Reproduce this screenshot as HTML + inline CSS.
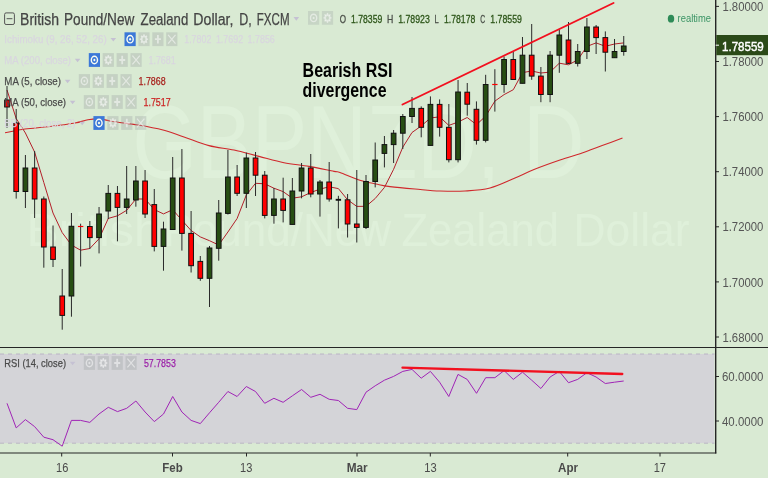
<!DOCTYPE html>
<html lang="en"><head><meta charset="utf-8"><title>GBPNZD chart</title>
<style>html,body{margin:0;padding:0;background:#d9ead3;}body{width:768px;height:478px;overflow:hidden;position:relative;font-family:"Liberation Sans",Arial,sans-serif;}</style>
</head><body>
<svg width="768" height="478" viewBox="0 0 768 478" style="position:absolute;left:0;top:0;display:block" font-family="'Liberation Sans', Arial, sans-serif">
<rect x="0" y="0" width="768" height="478" fill="#d9ead3"/>
<text x="132.5" y="178" font-size="103.5" fill="#dff0da" textLength="367.5" lengthAdjust="spacingAndGlyphs">GBPNZD,</text>
<text x="523" y="178" font-size="103.5" fill="#dff0da" textLength="61.5" lengthAdjust="spacingAndGlyphs">D</text>
<text x="26.5" y="245.6" font-size="46" fill="#dff0da" textLength="134.5" lengthAdjust="spacingAndGlyphs">British</text>
<text x="163.5" y="245.6" font-size="46" fill="#dff0da" textLength="227.5" lengthAdjust="spacingAndGlyphs">Pound/New</text>
<text x="401.5" y="245.6" font-size="46" fill="#dff0da" textLength="157.5" lengthAdjust="spacingAndGlyphs">Zealand</text>
<text x="573.5" y="245.6" font-size="46" fill="#dff0da" textLength="116.0" lengthAdjust="spacingAndGlyphs">Dollar</text>
<rect x="0" y="354" width="714.5" height="89.2" fill="#d4d4d8"/>
<line x1="0" y1="354" x2="714.5" y2="354" stroke="#b7b0c3" stroke-width="0.9" stroke-dasharray="4 4"/>
<line x1="0" y1="443.2" x2="714.5" y2="443.2" stroke="#b7b0c3" stroke-width="0.9" stroke-dasharray="4 4"/>
<path d="M5.0 132.7 C8.3 132.1 17.5 130.0 25.0 129.0 C32.5 128.0 41.7 127.5 50.0 126.5 C58.3 125.5 68.7 124.1 75.0 123.0 C81.3 121.9 83.8 120.5 88.0 119.8 C92.2 119.1 95.8 118.7 100.0 119.0 C104.2 119.3 106.7 120.5 113.0 121.5 C119.3 122.5 129.7 123.6 138.0 125.0 C146.3 126.4 155.3 128.0 163.0 130.0 C170.7 132.0 176.3 134.4 184.0 137.0 C191.7 139.6 200.7 143.4 209.0 145.6 C217.3 147.8 225.7 148.2 234.0 150.0 C242.3 151.8 250.7 154.3 259.0 156.4 C267.3 158.5 275.7 161.0 284.0 162.7 C292.3 164.4 300.7 164.9 309.0 166.4 C317.3 167.9 328.8 170.4 334.0 171.4 C339.2 172.4 335.8 171.1 340.0 172.5 C344.2 173.9 353.0 178.1 359.0 180.0 C365.0 181.9 370.8 182.9 376.0 184.0 C381.2 185.1 383.5 185.8 390.0 186.6 C396.5 187.4 406.7 188.3 415.0 189.0 C423.3 189.7 431.7 190.7 440.0 191.0 C448.3 191.3 456.7 191.5 465.0 191.0 C473.3 190.5 481.7 190.2 490.0 188.0 C498.3 185.8 507.7 181.1 515.0 178.0 C522.3 174.9 526.5 172.5 534.0 169.5 C541.5 166.5 551.5 162.9 560.0 160.0 C568.5 157.1 577.5 154.6 585.0 152.0 C592.5 149.4 598.8 146.8 605.0 144.5 C611.2 142.2 619.6 139.1 622.5 138.0" fill="none" stroke="#d0282c" stroke-width="1.1"/>
<polyline points="7.0,90.0 16.2,118.5 25.4,133.0 34.6,152.0 43.8,182.5 53.0,213.0 62.2,232.6 71.4,245.0 80.6,250.2 89.8,248.5 99.0,238.8 108.3,218.4 117.5,215.8 126.7,210.3 135.9,199.0 145.1,199.0 154.3,209.6 163.5,213.9 172.7,209.7 181.9,220.2 191.1,230.5 200.3,236.9 209.5,240.7 218.7,245.0 227.9,232.0 237.1,218.5 246.3,195.0 255.5,183.3 264.7,183.8 273.9,188.2 283.1,191.6 292.4,198.2 301.6,196.8 310.8,192.5 320.0,189.1 329.2,186.8 338.4,188.6 347.6,199.8 356.8,206.4 366.0,206.3 375.2,198.5 384.4,187.5 393.6,169.3 402.8,147.2 412.0,132.5 421.2,126.0 430.4,118.0 439.6,116.8 448.8,125.4 458.0,122.1 467.2,117.5 476.5,124.7 485.7,116.1 494.9,101.1 504.1,94.6 513.3,89.7 522.5,72.6 531.7,71.0 540.9,73.0 550.1,72.1 559.3,63.2 568.5,64.8 577.7,59.9 586.9,46.4 596.1,42.9 605.3,46.3 614.5,44.0 623.7,42.9" fill="none" stroke="#b3202a" stroke-width="1" stroke-linejoin="round"/>
<line x1="7.00" y1="86.0" x2="7.00" y2="128.0" stroke="#2a2a2a" stroke-width="1"/>
<rect x="4.65" y="100.0" width="4.7" height="7.0" fill="#ff0000" stroke="#111" stroke-width="1"/>
<line x1="16.20" y1="109.0" x2="16.20" y2="198.6" stroke="#2a2a2a" stroke-width="1"/>
<rect x="13.85" y="123.0" width="4.7" height="68.5" fill="#ff0000" stroke="#111" stroke-width="1"/>
<line x1="25.41" y1="155.0" x2="25.41" y2="208.0" stroke="#2a2a2a" stroke-width="1"/>
<rect x="23.06" y="168.0" width="4.7" height="23.5" fill="#274e13" stroke="#111" stroke-width="1"/>
<line x1="34.62" y1="151.0" x2="34.62" y2="218.0" stroke="#2a2a2a" stroke-width="1"/>
<rect x="32.27" y="168.0" width="4.7" height="31.0" fill="#ff0000" stroke="#111" stroke-width="1"/>
<line x1="43.82" y1="196.5" x2="43.82" y2="267.7" stroke="#2a2a2a" stroke-width="1"/>
<rect x="41.47" y="199.0" width="4.7" height="48.0" fill="#ff0000" stroke="#111" stroke-width="1"/>
<line x1="53.02" y1="225.5" x2="53.02" y2="267.0" stroke="#2a2a2a" stroke-width="1"/>
<rect x="50.67" y="247.0" width="4.7" height="12.4" fill="#ff0000" stroke="#111" stroke-width="1"/>
<line x1="62.23" y1="269.0" x2="62.23" y2="329.7" stroke="#2a2a2a" stroke-width="1"/>
<rect x="59.88" y="296.0" width="4.7" height="19.4" fill="#ff0000" stroke="#111" stroke-width="1"/>
<line x1="71.44" y1="213.0" x2="71.44" y2="316.7" stroke="#2a2a2a" stroke-width="1"/>
<rect x="69.09" y="226.3" width="4.7" height="69.7" fill="#274e13" stroke="#111" stroke-width="1"/>
<line x1="80.64" y1="223.7" x2="80.64" y2="266.5" stroke="#2a2a2a" stroke-width="1"/>
<line x1="77.94" y1="226.5" x2="83.34" y2="226.5" stroke="#ff0000" stroke-width="1.2"/>
<line x1="89.84" y1="221.0" x2="89.84" y2="249.0" stroke="#2a2a2a" stroke-width="1"/>
<rect x="87.50" y="226.5" width="4.7" height="11.1" fill="#ff0000" stroke="#111" stroke-width="1"/>
<line x1="99.05" y1="207.0" x2="99.05" y2="253.4" stroke="#2a2a2a" stroke-width="1"/>
<rect x="96.70" y="214.0" width="4.7" height="23.6" fill="#274e13" stroke="#111" stroke-width="1"/>
<line x1="108.25" y1="185.0" x2="108.25" y2="219.0" stroke="#2a2a2a" stroke-width="1"/>
<rect x="105.91" y="193.4" width="4.7" height="17.6" fill="#274e13" stroke="#111" stroke-width="1"/>
<line x1="117.46" y1="186.0" x2="117.46" y2="241.3" stroke="#2a2a2a" stroke-width="1"/>
<rect x="115.11" y="193.4" width="4.7" height="14.0" fill="#ff0000" stroke="#111" stroke-width="1"/>
<line x1="126.67" y1="166.0" x2="126.67" y2="214.0" stroke="#2a2a2a" stroke-width="1"/>
<rect x="124.32" y="199.0" width="4.7" height="8.4" fill="#274e13" stroke="#111" stroke-width="1"/>
<line x1="135.87" y1="166.0" x2="135.87" y2="206.7" stroke="#2a2a2a" stroke-width="1"/>
<rect x="133.52" y="181.0" width="4.7" height="19.0" fill="#274e13" stroke="#111" stroke-width="1"/>
<line x1="145.07" y1="170.0" x2="145.07" y2="218.0" stroke="#2a2a2a" stroke-width="1"/>
<rect x="142.72" y="181.0" width="4.7" height="33.0" fill="#ff0000" stroke="#111" stroke-width="1"/>
<line x1="154.28" y1="189.0" x2="154.28" y2="251.4" stroke="#2a2a2a" stroke-width="1"/>
<rect x="151.93" y="204.6" width="4.7" height="41.8" fill="#ff0000" stroke="#111" stroke-width="1"/>
<line x1="163.49" y1="221.7" x2="163.49" y2="270.7" stroke="#2a2a2a" stroke-width="1"/>
<rect x="161.14" y="229.0" width="4.7" height="17.4" fill="#274e13" stroke="#111" stroke-width="1"/>
<line x1="172.69" y1="157.0" x2="172.69" y2="229.5" stroke="#2a2a2a" stroke-width="1"/>
<rect x="170.34" y="178.0" width="4.7" height="51.5" fill="#274e13" stroke="#111" stroke-width="1"/>
<line x1="181.90" y1="149.0" x2="181.90" y2="250.6" stroke="#2a2a2a" stroke-width="1"/>
<rect x="179.55" y="178.0" width="4.7" height="55.4" fill="#ff0000" stroke="#111" stroke-width="1"/>
<line x1="191.10" y1="211.0" x2="191.10" y2="272.5" stroke="#2a2a2a" stroke-width="1"/>
<rect x="188.75" y="233.4" width="4.7" height="32.3" fill="#ff0000" stroke="#111" stroke-width="1"/>
<line x1="200.31" y1="256.0" x2="200.31" y2="280.8" stroke="#2a2a2a" stroke-width="1"/>
<rect x="197.96" y="261.4" width="4.7" height="16.9" fill="#ff0000" stroke="#111" stroke-width="1"/>
<line x1="209.51" y1="246.0" x2="209.51" y2="307.0" stroke="#2a2a2a" stroke-width="1"/>
<rect x="207.16" y="248.0" width="4.7" height="30.3" fill="#274e13" stroke="#111" stroke-width="1"/>
<line x1="218.72" y1="200.0" x2="218.72" y2="260.7" stroke="#2a2a2a" stroke-width="1"/>
<rect x="216.37" y="213.0" width="4.7" height="35.3" fill="#274e13" stroke="#111" stroke-width="1"/>
<line x1="227.92" y1="150.0" x2="227.92" y2="214.5" stroke="#2a2a2a" stroke-width="1"/>
<rect x="225.57" y="177.0" width="4.7" height="36.4" fill="#274e13" stroke="#111" stroke-width="1"/>
<line x1="237.12" y1="165.0" x2="237.12" y2="196.0" stroke="#2a2a2a" stroke-width="1"/>
<rect x="234.78" y="177.0" width="4.7" height="16.3" fill="#ff0000" stroke="#111" stroke-width="1"/>
<line x1="246.33" y1="152.6" x2="246.33" y2="208.0" stroke="#2a2a2a" stroke-width="1"/>
<rect x="243.98" y="158.0" width="4.7" height="35.3" fill="#274e13" stroke="#111" stroke-width="1"/>
<line x1="255.53" y1="152.0" x2="255.53" y2="196.0" stroke="#2a2a2a" stroke-width="1"/>
<rect x="253.19" y="158.0" width="4.7" height="17.2" fill="#ff0000" stroke="#111" stroke-width="1"/>
<line x1="264.74" y1="171.0" x2="264.74" y2="218.4" stroke="#2a2a2a" stroke-width="1"/>
<rect x="262.39" y="175.2" width="4.7" height="40.2" fill="#ff0000" stroke="#111" stroke-width="1"/>
<line x1="273.94" y1="188.0" x2="273.94" y2="223.7" stroke="#2a2a2a" stroke-width="1"/>
<rect x="271.59" y="199.0" width="4.7" height="16.4" fill="#274e13" stroke="#111" stroke-width="1"/>
<line x1="283.15" y1="177.7" x2="283.15" y2="222.4" stroke="#2a2a2a" stroke-width="1"/>
<rect x="280.80" y="199.0" width="4.7" height="11.4" fill="#ff0000" stroke="#111" stroke-width="1"/>
<line x1="292.36" y1="178.0" x2="292.36" y2="224.4" stroke="#2a2a2a" stroke-width="1"/>
<rect x="290.00" y="191.0" width="4.7" height="33.4" fill="#274e13" stroke="#111" stroke-width="1"/>
<line x1="301.56" y1="163.0" x2="301.56" y2="198.3" stroke="#2a2a2a" stroke-width="1"/>
<rect x="299.21" y="168.0" width="4.7" height="23.0" fill="#274e13" stroke="#111" stroke-width="1"/>
<line x1="310.76" y1="154.0" x2="310.76" y2="197.3" stroke="#2a2a2a" stroke-width="1"/>
<rect x="308.41" y="168.0" width="4.7" height="26.0" fill="#ff0000" stroke="#111" stroke-width="1"/>
<line x1="319.97" y1="180.0" x2="319.97" y2="216.6" stroke="#2a2a2a" stroke-width="1"/>
<rect x="317.62" y="182.0" width="4.7" height="12.0" fill="#274e13" stroke="#111" stroke-width="1"/>
<line x1="329.18" y1="162.0" x2="329.18" y2="201.6" stroke="#2a2a2a" stroke-width="1"/>
<rect x="326.82" y="182.0" width="4.7" height="17.0" fill="#ff0000" stroke="#111" stroke-width="1"/>
<line x1="338.38" y1="195.8" x2="338.38" y2="228.4" stroke="#2a2a2a" stroke-width="1"/>
<line x1="335.68" y1="199.8" x2="341.08" y2="199.8" stroke="#111" stroke-width="1.9"/>
<line x1="347.58" y1="194.0" x2="347.58" y2="237.5" stroke="#2a2a2a" stroke-width="1"/>
<rect x="345.23" y="199.8" width="4.7" height="24.2" fill="#ff0000" stroke="#111" stroke-width="1"/>
<line x1="356.79" y1="170.0" x2="356.79" y2="242.5" stroke="#2a2a2a" stroke-width="1"/>
<rect x="354.44" y="224.0" width="4.7" height="3.4" fill="#ff0000" stroke="#111" stroke-width="1"/>
<line x1="366.00" y1="175.0" x2="366.00" y2="229.0" stroke="#2a2a2a" stroke-width="1"/>
<rect x="363.64" y="181.5" width="4.7" height="45.9" fill="#274e13" stroke="#111" stroke-width="1"/>
<line x1="375.20" y1="142.5" x2="375.20" y2="187.4" stroke="#2a2a2a" stroke-width="1"/>
<rect x="372.85" y="160.0" width="4.7" height="21.5" fill="#274e13" stroke="#111" stroke-width="1"/>
<line x1="384.41" y1="136.0" x2="384.41" y2="167.4" stroke="#2a2a2a" stroke-width="1"/>
<rect x="382.06" y="144.6" width="4.7" height="8.8" fill="#274e13" stroke="#111" stroke-width="1"/>
<line x1="393.61" y1="130.0" x2="393.61" y2="163.0" stroke="#2a2a2a" stroke-width="1"/>
<rect x="391.26" y="133.2" width="4.7" height="11.4" fill="#274e13" stroke="#111" stroke-width="1"/>
<line x1="402.81" y1="114.0" x2="402.81" y2="149.0" stroke="#2a2a2a" stroke-width="1"/>
<rect x="400.46" y="116.5" width="4.7" height="16.7" fill="#274e13" stroke="#111" stroke-width="1"/>
<line x1="412.02" y1="97.0" x2="412.02" y2="123.0" stroke="#2a2a2a" stroke-width="1"/>
<rect x="409.67" y="108.4" width="4.7" height="8.1" fill="#274e13" stroke="#111" stroke-width="1"/>
<line x1="421.23" y1="106.4" x2="421.23" y2="137.3" stroke="#2a2a2a" stroke-width="1"/>
<rect x="418.88" y="108.4" width="4.7" height="18.9" fill="#ff0000" stroke="#111" stroke-width="1"/>
<line x1="430.43" y1="96.4" x2="430.43" y2="145.4" stroke="#2a2a2a" stroke-width="1"/>
<rect x="428.08" y="104.4" width="4.7" height="41.0" fill="#274e13" stroke="#111" stroke-width="1"/>
<line x1="439.63" y1="99.4" x2="439.63" y2="136.6" stroke="#2a2a2a" stroke-width="1"/>
<rect x="437.28" y="104.4" width="4.7" height="22.9" fill="#ff0000" stroke="#111" stroke-width="1"/>
<line x1="448.84" y1="104.0" x2="448.84" y2="162.4" stroke="#2a2a2a" stroke-width="1"/>
<rect x="446.49" y="127.3" width="4.7" height="32.4" fill="#ff0000" stroke="#111" stroke-width="1"/>
<line x1="458.05" y1="80.0" x2="458.05" y2="162.4" stroke="#2a2a2a" stroke-width="1"/>
<rect x="455.69" y="92.0" width="4.7" height="67.7" fill="#274e13" stroke="#111" stroke-width="1"/>
<line x1="467.25" y1="83.0" x2="467.25" y2="115.7" stroke="#2a2a2a" stroke-width="1"/>
<rect x="464.90" y="92.2" width="4.7" height="12.0" fill="#ff0000" stroke="#111" stroke-width="1"/>
<line x1="476.45" y1="101.4" x2="476.45" y2="144.6" stroke="#2a2a2a" stroke-width="1"/>
<rect x="474.10" y="109.3" width="4.7" height="31.0" fill="#ff0000" stroke="#111" stroke-width="1"/>
<line x1="485.66" y1="74.8" x2="485.66" y2="142.4" stroke="#2a2a2a" stroke-width="1"/>
<rect x="483.31" y="84.5" width="4.7" height="55.8" fill="#274e13" stroke="#111" stroke-width="1"/>
<line x1="494.87" y1="69.2" x2="494.87" y2="111.6" stroke="#2a2a2a" stroke-width="1"/>
<line x1="492.17" y1="84.5" x2="497.56" y2="84.5" stroke="#ff0000" stroke-width="1.2"/>
<line x1="504.07" y1="56.5" x2="504.07" y2="92.8" stroke="#2a2a2a" stroke-width="1"/>
<rect x="501.72" y="59.5" width="4.7" height="25.0" fill="#274e13" stroke="#111" stroke-width="1"/>
<line x1="513.27" y1="52.0" x2="513.27" y2="80.0" stroke="#2a2a2a" stroke-width="1"/>
<rect x="510.92" y="59.5" width="4.7" height="20.0" fill="#ff0000" stroke="#111" stroke-width="1"/>
<line x1="522.48" y1="37.0" x2="522.48" y2="83.3" stroke="#2a2a2a" stroke-width="1"/>
<rect x="520.13" y="55.2" width="4.7" height="28.1" fill="#274e13" stroke="#111" stroke-width="1"/>
<line x1="531.69" y1="24.0" x2="531.69" y2="79.8" stroke="#2a2a2a" stroke-width="1"/>
<rect x="529.34" y="55.2" width="4.7" height="20.9" fill="#ff0000" stroke="#111" stroke-width="1"/>
<line x1="540.89" y1="67.0" x2="540.89" y2="102.2" stroke="#2a2a2a" stroke-width="1"/>
<rect x="538.54" y="76.1" width="4.7" height="18.4" fill="#ff0000" stroke="#111" stroke-width="1"/>
<line x1="550.10" y1="51.0" x2="550.10" y2="102.2" stroke="#2a2a2a" stroke-width="1"/>
<rect x="547.75" y="55.2" width="4.7" height="39.3" fill="#274e13" stroke="#111" stroke-width="1"/>
<line x1="559.30" y1="29.6" x2="559.30" y2="72.8" stroke="#2a2a2a" stroke-width="1"/>
<rect x="556.95" y="35.0" width="4.7" height="20.2" fill="#274e13" stroke="#111" stroke-width="1"/>
<line x1="568.50" y1="22.0" x2="568.50" y2="64.0" stroke="#2a2a2a" stroke-width="1"/>
<rect x="566.15" y="40.0" width="4.7" height="23.3" fill="#ff0000" stroke="#111" stroke-width="1"/>
<line x1="577.71" y1="44.0" x2="577.71" y2="66.5" stroke="#2a2a2a" stroke-width="1"/>
<rect x="575.36" y="51.5" width="4.7" height="11.8" fill="#274e13" stroke="#111" stroke-width="1"/>
<line x1="586.91" y1="18.0" x2="586.91" y2="59.0" stroke="#2a2a2a" stroke-width="1"/>
<rect x="584.56" y="27.0" width="4.7" height="24.5" fill="#274e13" stroke="#111" stroke-width="1"/>
<line x1="596.12" y1="25.0" x2="596.12" y2="54.0" stroke="#2a2a2a" stroke-width="1"/>
<rect x="593.77" y="27.0" width="4.7" height="10.6" fill="#ff0000" stroke="#111" stroke-width="1"/>
<line x1="605.33" y1="31.4" x2="605.33" y2="71.5" stroke="#2a2a2a" stroke-width="1"/>
<rect x="602.98" y="37.6" width="4.7" height="14.6" fill="#ff0000" stroke="#111" stroke-width="1"/>
<line x1="614.53" y1="39.0" x2="614.53" y2="57.7" stroke="#2a2a2a" stroke-width="1"/>
<rect x="612.18" y="51.5" width="4.7" height="6.2" fill="#274e13" stroke="#111" stroke-width="1"/>
<line x1="623.74" y1="36.0" x2="623.74" y2="55.7" stroke="#2a2a2a" stroke-width="1"/>
<rect x="621.38" y="46.0" width="4.7" height="5.5" fill="#274e13" stroke="#111" stroke-width="1"/>
<polyline points="7.0,403.3 16.2,427.9 25.4,419.6 34.6,426.6 43.8,437.2 53.0,439.7 62.2,446.2 71.4,420.4 80.6,420.4 89.8,422.4 99.0,414.0 108.3,407.3 117.5,411.6 126.7,408.3 135.9,401.0 145.1,412.0 154.3,421.6 163.5,414.0 172.7,396.5 181.9,412.0 191.1,420.4 200.3,423.6 209.5,412.8 218.7,402.3 227.9,391.5 237.1,396.5 246.3,386.5 255.5,391.5 264.7,403.3 273.9,398.3 283.1,402.3 292.4,395.8 301.6,389.5 310.8,397.3 320.0,394.3 329.2,399.3 338.4,400.5 347.6,408.3 356.8,409.6 366.0,392.2 375.2,385.8 384.4,380.2 393.6,376.4 402.8,371.4 412.0,369.4 421.2,378.2 430.4,371.4 439.6,382.2 448.8,396.5 458.0,374.4 467.2,379.4 476.5,393.3 485.7,377.7 494.9,377.7 504.1,370.6 513.3,379.4 522.5,372.2 531.7,380.2 540.9,388.5 550.1,377.0 559.3,371.4 568.5,382.7 577.7,379.4 586.9,372.7 596.1,377.0 605.3,383.5 614.5,382.2 623.7,381.0" fill="none" stroke="#a024b6" stroke-width="1" stroke-linejoin="round"/>
<line x1="402.5" y1="104.5" x2="613.5" y2="3" stroke="#f2101f" stroke-width="1.9" stroke-linecap="round"/>
<line x1="402.5" y1="367.6" x2="622.3" y2="374" stroke="#f2101f" stroke-width="2.3" stroke-linecap="round"/>
<line x1="715.7" y1="0" x2="715.7" y2="453.5" stroke="#262626" stroke-width="1.4"/>
<line x1="0" y1="347.5" x2="768" y2="347.5" stroke="#262626" stroke-width="1.2"/>
<line x1="0" y1="453" x2="716.3" y2="453" stroke="#262626" stroke-width="1.2"/>
<line x1="715.7" y1="6.4" x2="719" y2="6.4" stroke="#262626" stroke-width="1"/>
<text x="722.4" y="11.0" font-size="12.8" fill="#555" textLength="41.0" lengthAdjust="spacingAndGlyphs">1.80000</text>
<line x1="715.7" y1="61.5" x2="719" y2="61.5" stroke="#262626" stroke-width="1"/>
<text x="722.4" y="66.1" font-size="12.8" fill="#555" textLength="41.0" lengthAdjust="spacingAndGlyphs">1.78000</text>
<line x1="715.7" y1="116.6" x2="719" y2="116.6" stroke="#262626" stroke-width="1"/>
<text x="722.4" y="121.2" font-size="12.8" fill="#555" textLength="41.0" lengthAdjust="spacingAndGlyphs">1.76000</text>
<line x1="715.7" y1="171.7" x2="719" y2="171.7" stroke="#262626" stroke-width="1"/>
<text x="722.4" y="176.3" font-size="12.8" fill="#555" textLength="41.0" lengthAdjust="spacingAndGlyphs">1.74000</text>
<line x1="715.7" y1="226.8" x2="719" y2="226.8" stroke="#262626" stroke-width="1"/>
<text x="722.4" y="231.4" font-size="12.8" fill="#555" textLength="41.0" lengthAdjust="spacingAndGlyphs">1.72000</text>
<line x1="715.7" y1="281.9" x2="719" y2="281.9" stroke="#262626" stroke-width="1"/>
<text x="722.4" y="286.5" font-size="12.8" fill="#555" textLength="41.0" lengthAdjust="spacingAndGlyphs">1.70000</text>
<line x1="715.7" y1="337.0" x2="719" y2="337.0" stroke="#262626" stroke-width="1"/>
<text x="722.4" y="341.6" font-size="12.8" fill="#555" textLength="41.0" lengthAdjust="spacingAndGlyphs">1.68000</text>
<line x1="715.7" y1="376.5" x2="719" y2="376.5" stroke="#262626" stroke-width="1"/>
<text x="722.0" y="381.1" font-size="12.8" fill="#555" textLength="41.4" lengthAdjust="spacingAndGlyphs">60.0000</text>
<line x1="715.7" y1="421.0" x2="719" y2="421.0" stroke="#262626" stroke-width="1"/>
<text x="722.0" y="425.6" font-size="12.8" fill="#555" textLength="41.4" lengthAdjust="spacingAndGlyphs">40.0000</text>
<rect x="716.3" y="35" width="52" height="20.2" fill="#2b4a18"/>
<line x1="715.7" y1="45.2" x2="719" y2="45.2" stroke="#fff" stroke-width="1"/>
<text x="722.0" y="50.7" font-size="12.8" fill="#ffffff" textLength="41.8" lengthAdjust="spacingAndGlyphs" stroke="#fff" stroke-width="0.45">1.78559</text>
<line x1="61.7" y1="453" x2="61.7" y2="456.5" stroke="#262626" stroke-width="1"/>
<text x="56.0" y="472.0" font-size="13.4" fill="#4a4a4a" textLength="12.3" lengthAdjust="spacingAndGlyphs">16</text>
<line x1="172.5" y1="453" x2="172.5" y2="456.5" stroke="#262626" stroke-width="1"/>
<text x="162.3" y="472.0" font-size="13.4" fill="#4a4a4a" font-weight="bold" textLength="20.4" lengthAdjust="spacingAndGlyphs">Feb</text>
<line x1="246.5" y1="453" x2="246.5" y2="456.5" stroke="#262626" stroke-width="1"/>
<text x="240.0" y="472.0" font-size="13.4" fill="#4a4a4a" textLength="12.3" lengthAdjust="spacingAndGlyphs">13</text>
<line x1="357" y1="453" x2="357" y2="456.5" stroke="#262626" stroke-width="1"/>
<text x="346.7" y="472.0" font-size="13.4" fill="#4a4a4a" font-weight="bold" textLength="21.0" lengthAdjust="spacingAndGlyphs">Mar</text>
<line x1="430.3" y1="453" x2="430.3" y2="456.5" stroke="#262626" stroke-width="1"/>
<text x="424.3" y="472.0" font-size="13.4" fill="#4a4a4a" textLength="12.4" lengthAdjust="spacingAndGlyphs">13</text>
<line x1="567.7" y1="453" x2="567.7" y2="456.5" stroke="#262626" stroke-width="1"/>
<text x="558.0" y="472.0" font-size="13.4" fill="#4a4a4a" font-weight="bold" textLength="20.0" lengthAdjust="spacingAndGlyphs">Apr</text>
<line x1="660" y1="453" x2="660" y2="456.5" stroke="#262626" stroke-width="1"/>
<text x="653.7" y="472.0" font-size="13.4" fill="#4a4a4a" textLength="12.3" lengthAdjust="spacingAndGlyphs">17</text>
<text x="302.6" y="76.8" font-size="19.6" fill="#000" font-weight="bold" textLength="89.8" lengthAdjust="spacingAndGlyphs">Bearish RSI</text>
<text x="302.6" y="96.8" font-size="19.6" fill="#000" font-weight="bold" textLength="83.9" lengthAdjust="spacingAndGlyphs">divergence</text>
<ellipse cx="671" cy="18.7" rx="3.2" ry="3.9" fill="#2e8b57"/>
<text x="677.6" y="21.7" font-size="11.5" fill="#3a9464" textLength="33.4" lengthAdjust="spacingAndGlyphs">realtime</text>
<rect x="4.6" y="12.9" width="9.8" height="11.6" rx="1.5" fill="none" stroke="#555" stroke-width="1"/>
<line x1="6.6" y1="18.7" x2="12.4" y2="18.7" stroke="#555" stroke-width="1"/>
<text x="20.1" y="24.7" font-size="15.8" fill="#444" textLength="38.9" lengthAdjust="spacingAndGlyphs" stroke="#444" stroke-width="0.25">British</text>
<text x="64.0" y="24.7" font-size="15.8" fill="#444" textLength="70.3" lengthAdjust="spacingAndGlyphs" stroke="#444" stroke-width="0.25">Pound/New</text>
<text x="140.6" y="24.7" font-size="15.8" fill="#444" textLength="47.7" lengthAdjust="spacingAndGlyphs" stroke="#444" stroke-width="0.25">Zealand</text>
<text x="193.3" y="24.7" font-size="15.8" fill="#444" textLength="40.1" lengthAdjust="spacingAndGlyphs" stroke="#444" stroke-width="0.25">Dollar,</text>
<text x="239.2" y="24.7" font-size="15.8" fill="#444" textLength="12.5" lengthAdjust="spacingAndGlyphs" stroke="#444" stroke-width="0.25">D,</text>
<text x="256.8" y="24.7" font-size="15.8" fill="#444" textLength="32.7" lengthAdjust="spacingAndGlyphs" stroke="#444" stroke-width="0.25">FXCM</text>
<path d="M293.5 17.1 h5.6 l-2.8 3.6 z" fill="#c5c1d3"/>
<rect x="308.0" y="11.0" width="11.2" height="13.8" fill="rgba(160,165,165,0.30)"/>
<ellipse cx="313.6" cy="17.9" rx="3.1" ry="3.7" fill="none" stroke="rgba(255,255,255,0.5)" stroke-width="1.4"/>
<ellipse cx="313.6" cy="17.9" rx="1.0" ry="1.2" fill="rgba(255,255,255,0.5)"/>
<rect x="321.9" y="11.0" width="11.2" height="13.8" fill="rgba(160,165,165,0.30)"/>
<ellipse cx="327.5" cy="17.9" rx="2.3" ry="2.8" fill="none" stroke="rgba(255,255,255,0.5)" stroke-width="1.7"/>
<line x1="330.2" y1="17.9" x2="331.6" y2="17.9" stroke="rgba(255,255,255,0.5)" stroke-width="1.4"/>
<line x1="329.4" y1="20.2" x2="330.4" y2="21.4" stroke="rgba(255,255,255,0.5)" stroke-width="1.4"/>
<line x1="327.5" y1="21.2" x2="327.5" y2="22.9" stroke="rgba(255,255,255,0.5)" stroke-width="1.4"/>
<line x1="325.6" y1="20.2" x2="324.6" y2="21.4" stroke="rgba(255,255,255,0.5)" stroke-width="1.4"/>
<line x1="324.8" y1="17.9" x2="323.4" y2="17.9" stroke="rgba(255,255,255,0.5)" stroke-width="1.4"/>
<line x1="325.6" y1="15.6" x2="324.6" y2="14.4" stroke="rgba(255,255,255,0.5)" stroke-width="1.4"/>
<line x1="327.5" y1="14.6" x2="327.5" y2="12.9" stroke="rgba(255,255,255,0.5)" stroke-width="1.4"/>
<line x1="329.4" y1="15.6" x2="330.4" y2="14.4" stroke="rgba(255,255,255,0.5)" stroke-width="1.4"/>
<text x="339.7" y="22.5" font-size="11" fill="#4a4f48" textLength="6.3" lengthAdjust="spacingAndGlyphs" stroke="#4a4f48" stroke-width="0.3">O</text>
<text x="351.0" y="22.5" font-size="11" fill="#2c5518" textLength="31.3" lengthAdjust="spacingAndGlyphs" stroke="#2c5518" stroke-width="0.3">1.78359</text>
<text x="387.1" y="22.5" font-size="11" fill="#4a4f48" textLength="6.3" lengthAdjust="spacingAndGlyphs" stroke="#4a4f48" stroke-width="0.3">H</text>
<text x="398.2" y="22.5" font-size="11" fill="#2c5518" textLength="31.6" lengthAdjust="spacingAndGlyphs" stroke="#2c5518" stroke-width="0.3">1.78923</text>
<text x="434.6" y="22.5" font-size="11" fill="#4a4f48" textLength="4.2" lengthAdjust="spacingAndGlyphs" stroke="#4a4f48" stroke-width="0.3">L</text>
<text x="444.0" y="22.5" font-size="11" fill="#2c5518" textLength="31.3" lengthAdjust="spacingAndGlyphs" stroke="#2c5518" stroke-width="0.3">1.78178</text>
<text x="480.3" y="22.5" font-size="11" fill="#4a4f48" textLength="4.9" lengthAdjust="spacingAndGlyphs" stroke="#4a4f48" stroke-width="0.3">C</text>
<text x="490.3" y="22.5" font-size="11" fill="#2c5518" textLength="31.7" lengthAdjust="spacingAndGlyphs" stroke="#2c5518" stroke-width="0.3">1.78559</text>
<text x="4.3" y="42.6" font-size="11.8" fill="#d9d6df" textLength="102.4" lengthAdjust="spacingAndGlyphs" stroke="#d9d6df" stroke-width="0.25">Ichimoku (9, 26, 52, 26)</text>
<path d="M110.5 37.9 h5.6 l-2.8 3.6 z" fill="#c5c1d3"/>
<rect x="124.5" y="32.3" width="11.2" height="13.8" fill="#3c78d8"/>
<ellipse cx="130.1" cy="39.2" rx="3.1" ry="3.7" fill="none" stroke="#fbfdf2" stroke-width="1.4"/>
<ellipse cx="130.1" cy="39.2" rx="1.0" ry="1.2" fill="#fbfdf2"/>
<rect x="138.4" y="32.3" width="11.2" height="13.8" fill="rgba(160,165,165,0.36)"/>
<ellipse cx="144.0" cy="39.2" rx="2.3" ry="2.8" fill="none" stroke="rgba(255,255,255,0.5)" stroke-width="1.7"/>
<line x1="146.7" y1="39.2" x2="148.1" y2="39.2" stroke="rgba(255,255,255,0.5)" stroke-width="1.4"/>
<line x1="145.9" y1="41.5" x2="146.9" y2="42.7" stroke="rgba(255,255,255,0.5)" stroke-width="1.4"/>
<line x1="144.0" y1="42.5" x2="144.0" y2="44.2" stroke="rgba(255,255,255,0.5)" stroke-width="1.4"/>
<line x1="142.1" y1="41.5" x2="141.1" y2="42.7" stroke="rgba(255,255,255,0.5)" stroke-width="1.4"/>
<line x1="141.3" y1="39.2" x2="139.9" y2="39.2" stroke="rgba(255,255,255,0.5)" stroke-width="1.4"/>
<line x1="142.1" y1="36.9" x2="141.1" y2="35.7" stroke="rgba(255,255,255,0.5)" stroke-width="1.4"/>
<line x1="144.0" y1="35.9" x2="144.0" y2="34.2" stroke="rgba(255,255,255,0.5)" stroke-width="1.4"/>
<line x1="145.9" y1="36.9" x2="146.9" y2="35.7" stroke="rgba(255,255,255,0.5)" stroke-width="1.4"/>
<rect x="152.3" y="32.3" width="11.2" height="13.8" fill="rgba(160,165,165,0.36)"/>
<path d="M154.9 39.2 h6 M157.9 35.0 v8.4" stroke="rgba(255,255,255,0.5)" stroke-width="1.8" fill="none"/>
<rect x="166.2" y="32.3" width="11.2" height="13.8" fill="rgba(160,165,165,0.36)"/>
<path d="M168.1 34.8 l7.4 8.8 M175.5 34.8 l-7.4 8.8" stroke="rgba(255,255,255,0.5)" stroke-width="1.2" fill="none"/>
<text x="184.2" y="42.6" font-size="11.8" fill="#d9d6df" textLength="27.2" lengthAdjust="spacingAndGlyphs" stroke="#d9d6df" stroke-width="0.25">1.7802</text>
<text x="215.9" y="42.6" font-size="11.8" fill="#d9d6df" textLength="27.2" lengthAdjust="spacingAndGlyphs" stroke="#d9d6df" stroke-width="0.25">1.7692</text>
<text x="247.6" y="42.6" font-size="11.8" fill="#d9d6df" textLength="27.2" lengthAdjust="spacingAndGlyphs" stroke="#d9d6df" stroke-width="0.25">1.7856</text>
<text x="4.3" y="64.0" font-size="11.8" fill="#d9d6df" textLength="66.7" lengthAdjust="spacingAndGlyphs" stroke="#d9d6df" stroke-width="0.25">MA (200, close)</text>
<path d="M74.8 58.7 h5.6 l-2.8 3.6 z" fill="#c5c1d3"/>
<rect x="88.8" y="53.1" width="11.2" height="13.8" fill="#3c78d8"/>
<ellipse cx="94.4" cy="60.0" rx="3.1" ry="3.7" fill="none" stroke="#fbfdf2" stroke-width="1.4"/>
<ellipse cx="94.4" cy="60.0" rx="1.0" ry="1.2" fill="#fbfdf2"/>
<rect x="102.7" y="53.1" width="11.2" height="13.8" fill="rgba(160,165,165,0.36)"/>
<ellipse cx="108.3" cy="60.0" rx="2.3" ry="2.8" fill="none" stroke="rgba(255,255,255,0.5)" stroke-width="1.7"/>
<line x1="111.0" y1="60.0" x2="112.4" y2="60.0" stroke="rgba(255,255,255,0.5)" stroke-width="1.4"/>
<line x1="110.2" y1="62.3" x2="111.2" y2="63.5" stroke="rgba(255,255,255,0.5)" stroke-width="1.4"/>
<line x1="108.3" y1="63.3" x2="108.3" y2="65.0" stroke="rgba(255,255,255,0.5)" stroke-width="1.4"/>
<line x1="106.4" y1="62.3" x2="105.4" y2="63.5" stroke="rgba(255,255,255,0.5)" stroke-width="1.4"/>
<line x1="105.6" y1="60.0" x2="104.2" y2="60.0" stroke="rgba(255,255,255,0.5)" stroke-width="1.4"/>
<line x1="106.4" y1="57.7" x2="105.4" y2="56.5" stroke="rgba(255,255,255,0.5)" stroke-width="1.4"/>
<line x1="108.3" y1="56.7" x2="108.3" y2="55.0" stroke="rgba(255,255,255,0.5)" stroke-width="1.4"/>
<line x1="110.2" y1="57.7" x2="111.2" y2="56.5" stroke="rgba(255,255,255,0.5)" stroke-width="1.4"/>
<rect x="116.6" y="53.1" width="11.2" height="13.8" fill="rgba(160,165,165,0.36)"/>
<path d="M119.2 60.0 h6 M122.2 55.8 v8.4" stroke="rgba(255,255,255,0.5)" stroke-width="1.8" fill="none"/>
<rect x="130.5" y="53.1" width="11.2" height="13.8" fill="rgba(160,165,165,0.36)"/>
<path d="M132.4 55.6 l7.4 8.8 M139.8 55.6 l-7.4 8.8" stroke="rgba(255,255,255,0.5)" stroke-width="1.2" fill="none"/>
<text x="148.5" y="64.0" font-size="11.8" fill="#d9d6df" textLength="27.2" lengthAdjust="spacingAndGlyphs" stroke="#d9d6df" stroke-width="0.25">1.7681</text>
<text x="4.3" y="85.4" font-size="11.8" fill="#4a4a4a" textLength="56.7" lengthAdjust="spacingAndGlyphs" stroke="#4a4a4a" stroke-width="0.25">MA (5, close)</text>
<path d="M64.8 79.7 h5.6 l-2.8 3.6 z" fill="#c5c1d3"/>
<rect x="78.8" y="74.1" width="11.2" height="13.8" fill="rgba(160,165,165,0.36)"/>
<ellipse cx="84.4" cy="81.0" rx="3.1" ry="3.7" fill="none" stroke="rgba(255,255,255,0.5)" stroke-width="1.4"/>
<ellipse cx="84.4" cy="81.0" rx="1.0" ry="1.2" fill="rgba(255,255,255,0.5)"/>
<rect x="92.7" y="74.1" width="11.2" height="13.8" fill="rgba(160,165,165,0.36)"/>
<ellipse cx="98.3" cy="81.0" rx="2.3" ry="2.8" fill="none" stroke="rgba(255,255,255,0.5)" stroke-width="1.7"/>
<line x1="101.0" y1="81.0" x2="102.4" y2="81.0" stroke="rgba(255,255,255,0.5)" stroke-width="1.4"/>
<line x1="100.2" y1="83.3" x2="101.2" y2="84.5" stroke="rgba(255,255,255,0.5)" stroke-width="1.4"/>
<line x1="98.3" y1="84.3" x2="98.3" y2="86.0" stroke="rgba(255,255,255,0.5)" stroke-width="1.4"/>
<line x1="96.4" y1="83.3" x2="95.4" y2="84.5" stroke="rgba(255,255,255,0.5)" stroke-width="1.4"/>
<line x1="95.6" y1="81.0" x2="94.2" y2="81.0" stroke="rgba(255,255,255,0.5)" stroke-width="1.4"/>
<line x1="96.4" y1="78.7" x2="95.4" y2="77.5" stroke="rgba(255,255,255,0.5)" stroke-width="1.4"/>
<line x1="98.3" y1="77.7" x2="98.3" y2="76.0" stroke="rgba(255,255,255,0.5)" stroke-width="1.4"/>
<line x1="100.2" y1="78.7" x2="101.2" y2="77.5" stroke="rgba(255,255,255,0.5)" stroke-width="1.4"/>
<rect x="106.6" y="74.1" width="11.2" height="13.8" fill="rgba(160,165,165,0.36)"/>
<path d="M109.2 81.0 h6 M112.2 76.8 v8.4" stroke="rgba(255,255,255,0.5)" stroke-width="1.8" fill="none"/>
<rect x="120.5" y="74.1" width="11.2" height="13.8" fill="rgba(160,165,165,0.36)"/>
<path d="M122.4 76.6 l7.4 8.8 M129.8 76.6 l-7.4 8.8" stroke="rgba(255,255,255,0.5)" stroke-width="1.2" fill="none"/>
<text x="138.5" y="85.4" font-size="11.8" fill="#a8201c" textLength="27.2" lengthAdjust="spacingAndGlyphs" stroke="#a8201c" stroke-width="0.25">1.7868</text>
<text x="4.3" y="106.2" font-size="11.8" fill="#4a4a4a" textLength="61.7" lengthAdjust="spacingAndGlyphs" stroke="#4a4a4a" stroke-width="0.25">MA (50, close)</text>
<path d="M69.8 100.7 h5.6 l-2.8 3.6 z" fill="#c5c1d3"/>
<rect x="83.8" y="95.1" width="11.2" height="13.8" fill="rgba(160,165,165,0.36)"/>
<ellipse cx="89.4" cy="102.0" rx="3.1" ry="3.7" fill="none" stroke="rgba(255,255,255,0.5)" stroke-width="1.4"/>
<ellipse cx="89.4" cy="102.0" rx="1.0" ry="1.2" fill="rgba(255,255,255,0.5)"/>
<rect x="97.7" y="95.1" width="11.2" height="13.8" fill="rgba(160,165,165,0.36)"/>
<ellipse cx="103.3" cy="102.0" rx="2.3" ry="2.8" fill="none" stroke="rgba(255,255,255,0.5)" stroke-width="1.7"/>
<line x1="106.0" y1="102.0" x2="107.4" y2="102.0" stroke="rgba(255,255,255,0.5)" stroke-width="1.4"/>
<line x1="105.2" y1="104.3" x2="106.2" y2="105.5" stroke="rgba(255,255,255,0.5)" stroke-width="1.4"/>
<line x1="103.3" y1="105.3" x2="103.3" y2="107.0" stroke="rgba(255,255,255,0.5)" stroke-width="1.4"/>
<line x1="101.4" y1="104.3" x2="100.4" y2="105.5" stroke="rgba(255,255,255,0.5)" stroke-width="1.4"/>
<line x1="100.6" y1="102.0" x2="99.2" y2="102.0" stroke="rgba(255,255,255,0.5)" stroke-width="1.4"/>
<line x1="101.4" y1="99.7" x2="100.4" y2="98.5" stroke="rgba(255,255,255,0.5)" stroke-width="1.4"/>
<line x1="103.3" y1="98.7" x2="103.3" y2="97.0" stroke="rgba(255,255,255,0.5)" stroke-width="1.4"/>
<line x1="105.2" y1="99.7" x2="106.2" y2="98.5" stroke="rgba(255,255,255,0.5)" stroke-width="1.4"/>
<rect x="111.6" y="95.1" width="11.2" height="13.8" fill="rgba(160,165,165,0.36)"/>
<path d="M114.2 102.0 h6 M117.2 97.8 v8.4" stroke="rgba(255,255,255,0.5)" stroke-width="1.8" fill="none"/>
<rect x="125.5" y="95.1" width="11.2" height="13.8" fill="rgba(160,165,165,0.36)"/>
<path d="M127.4 97.6 l7.4 8.8 M134.8 97.6 l-7.4 8.8" stroke="rgba(255,255,255,0.5)" stroke-width="1.2" fill="none"/>
<text x="143.5" y="106.2" font-size="11.8" fill="#cc2222" textLength="27.2" lengthAdjust="spacingAndGlyphs" stroke="#cc2222" stroke-width="0.25">1.7517</text>
<text x="4.3" y="127.4" font-size="11.8" fill="#d9d6df" textLength="71.3" lengthAdjust="spacingAndGlyphs" stroke="#d9d6df" stroke-width="0.25">BB (20, close, 2)</text>
<path d="M79.4 121.7 h5.6 l-2.8 3.6 z" fill="#c5c1d3"/>
<rect x="93.4" y="116.1" width="11.2" height="13.8" fill="#3c78d8"/>
<ellipse cx="99.0" cy="123.0" rx="3.1" ry="3.7" fill="none" stroke="#fbfdf2" stroke-width="1.4"/>
<ellipse cx="99.0" cy="123.0" rx="1.0" ry="1.2" fill="#fbfdf2"/>
<rect x="107.3" y="116.1" width="11.2" height="13.8" fill="rgba(160,165,165,0.36)"/>
<ellipse cx="112.9" cy="123.0" rx="2.3" ry="2.8" fill="none" stroke="rgba(255,255,255,0.5)" stroke-width="1.7"/>
<line x1="115.6" y1="123.0" x2="117.0" y2="123.0" stroke="rgba(255,255,255,0.5)" stroke-width="1.4"/>
<line x1="114.8" y1="125.3" x2="115.8" y2="126.5" stroke="rgba(255,255,255,0.5)" stroke-width="1.4"/>
<line x1="112.9" y1="126.3" x2="112.9" y2="128.0" stroke="rgba(255,255,255,0.5)" stroke-width="1.4"/>
<line x1="111.0" y1="125.3" x2="110.0" y2="126.5" stroke="rgba(255,255,255,0.5)" stroke-width="1.4"/>
<line x1="110.2" y1="123.0" x2="108.8" y2="123.0" stroke="rgba(255,255,255,0.5)" stroke-width="1.4"/>
<line x1="111.0" y1="120.7" x2="110.0" y2="119.5" stroke="rgba(255,255,255,0.5)" stroke-width="1.4"/>
<line x1="112.9" y1="119.7" x2="112.9" y2="118.0" stroke="rgba(255,255,255,0.5)" stroke-width="1.4"/>
<line x1="114.8" y1="120.7" x2="115.8" y2="119.5" stroke="rgba(255,255,255,0.5)" stroke-width="1.4"/>
<rect x="121.2" y="116.1" width="11.2" height="13.8" fill="rgba(160,165,165,0.36)"/>
<path d="M123.8 123.0 h6 M126.8 118.8 v8.4" stroke="rgba(255,255,255,0.5)" stroke-width="1.8" fill="none"/>
<rect x="135.1" y="116.1" width="11.2" height="13.8" fill="rgba(160,165,165,0.36)"/>
<path d="M137.0 118.6 l7.4 8.8 M144.4 118.6 l-7.4 8.8" stroke="rgba(255,255,255,0.5)" stroke-width="1.2" fill="none"/>
<text x="4.3" y="366.9" font-size="11.8" fill="#4a4a4a" textLength="61.7" lengthAdjust="spacingAndGlyphs" stroke="#4a4a4a" stroke-width="0.25">RSI (14, close)</text>
<path d="M69.8 361.7 h5.6 l-2.8 3.6 z" fill="#c5c1d3"/>
<rect x="83.8" y="356.1" width="11.2" height="13.8" fill="rgba(160,165,165,0.36)"/>
<ellipse cx="89.4" cy="363.0" rx="3.1" ry="3.7" fill="none" stroke="rgba(255,255,255,0.5)" stroke-width="1.4"/>
<ellipse cx="89.4" cy="363.0" rx="1.0" ry="1.2" fill="rgba(255,255,255,0.5)"/>
<rect x="97.7" y="356.1" width="11.2" height="13.8" fill="rgba(160,165,165,0.36)"/>
<ellipse cx="103.3" cy="363.0" rx="2.3" ry="2.8" fill="none" stroke="rgba(255,255,255,0.5)" stroke-width="1.7"/>
<line x1="106.0" y1="363.0" x2="107.4" y2="363.0" stroke="rgba(255,255,255,0.5)" stroke-width="1.4"/>
<line x1="105.2" y1="365.3" x2="106.2" y2="366.5" stroke="rgba(255,255,255,0.5)" stroke-width="1.4"/>
<line x1="103.3" y1="366.3" x2="103.3" y2="368.0" stroke="rgba(255,255,255,0.5)" stroke-width="1.4"/>
<line x1="101.4" y1="365.3" x2="100.4" y2="366.5" stroke="rgba(255,255,255,0.5)" stroke-width="1.4"/>
<line x1="100.6" y1="363.0" x2="99.2" y2="363.0" stroke="rgba(255,255,255,0.5)" stroke-width="1.4"/>
<line x1="101.4" y1="360.7" x2="100.4" y2="359.5" stroke="rgba(255,255,255,0.5)" stroke-width="1.4"/>
<line x1="103.3" y1="359.7" x2="103.3" y2="358.0" stroke="rgba(255,255,255,0.5)" stroke-width="1.4"/>
<line x1="105.2" y1="360.7" x2="106.2" y2="359.5" stroke="rgba(255,255,255,0.5)" stroke-width="1.4"/>
<rect x="111.6" y="356.1" width="11.2" height="13.8" fill="rgba(160,165,165,0.36)"/>
<path d="M114.2 363.0 h6 M117.2 358.8 v8.4" stroke="rgba(255,255,255,0.5)" stroke-width="1.8" fill="none"/>
<rect x="125.5" y="356.1" width="11.2" height="13.8" fill="rgba(160,165,165,0.36)"/>
<path d="M127.4 358.6 l7.4 8.8 M134.8 358.6 l-7.4 8.8" stroke="rgba(255,255,255,0.5)" stroke-width="1.2" fill="none"/>
<text x="143.9" y="366.9" font-size="11.8" fill="#9b1fa8" textLength="31.9" lengthAdjust="spacingAndGlyphs" stroke="#9b1fa8" stroke-width="0.25">57.7853</text>
</svg>
</body></html>
